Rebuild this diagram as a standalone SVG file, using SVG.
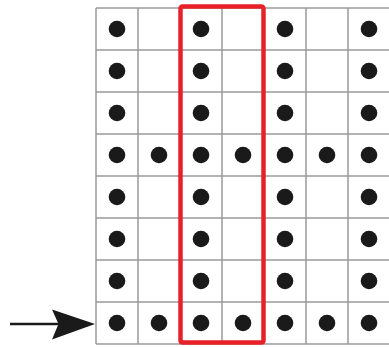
<svg xmlns="http://www.w3.org/2000/svg" width="389" height="347" viewBox="0 0 389 347">
<defs>
<style>
.g{stroke:#9a9a9a;stroke-width:1.5;fill:none}
.d{fill:#1a1a1a}
</style>
<circle id="dot" r="8.3" class="d"/>
</defs>
<rect width="389" height="347" fill="#fff"/>
<g id="grid">
<path class="g" d="M96,8V344M138,8V344M180,8V344M222,8V344M264,8V344M306,8V344M348,8V344M96,8H389M96,50H389M96,92H389M96,134H389M96,176H389M96,218H389M96,260H389M96,302H389M96,344H389"/>
</g>
<g id="dots">
<use href="#dot" x="117" y="29"/><use href="#dot" x="201" y="29"/><use href="#dot" x="285" y="29"/><use href="#dot" x="369" y="29"/>
<use href="#dot" x="117" y="71"/><use href="#dot" x="201" y="71"/><use href="#dot" x="285" y="71"/><use href="#dot" x="369" y="71"/>
<use href="#dot" x="117" y="113"/><use href="#dot" x="201" y="113"/><use href="#dot" x="285" y="113"/><use href="#dot" x="369" y="113"/>
<use href="#dot" x="117" y="155"/><use href="#dot" x="159" y="155"/><use href="#dot" x="201" y="155"/><use href="#dot" x="243" y="155"/><use href="#dot" x="285" y="155"/><use href="#dot" x="327" y="155"/><use href="#dot" x="369" y="155"/>
<use href="#dot" x="117" y="197"/><use href="#dot" x="201" y="197"/><use href="#dot" x="285" y="197"/><use href="#dot" x="369" y="197"/>
<use href="#dot" x="117" y="239"/><use href="#dot" x="201" y="239"/><use href="#dot" x="285" y="239"/><use href="#dot" x="369" y="239"/>
<use href="#dot" x="117" y="281"/><use href="#dot" x="201" y="281"/><use href="#dot" x="285" y="281"/><use href="#dot" x="369" y="281"/>
<use href="#dot" x="117" y="323"/><use href="#dot" x="159" y="323"/><use href="#dot" x="201" y="323"/><use href="#dot" x="243" y="323"/><use href="#dot" x="285" y="323"/><use href="#dot" x="327" y="323"/><use href="#dot" x="369" y="323"/>
</g>
<g id="highlight">
<rect x="180.5" y="6.5" width="83" height="336" rx="2" fill="none" stroke="#e8202a" stroke-width="4.5"/>
</g>
<g id="connectors">
<line x1="10" y1="324" x2="60" y2="324" stroke="#1a1a1a" stroke-width="2.5"/>
<path d="M95,324 L52,309.5 L58.5,324 L52,339.5 Z" fill="#1a1a1a"/>
</g>
</svg>
